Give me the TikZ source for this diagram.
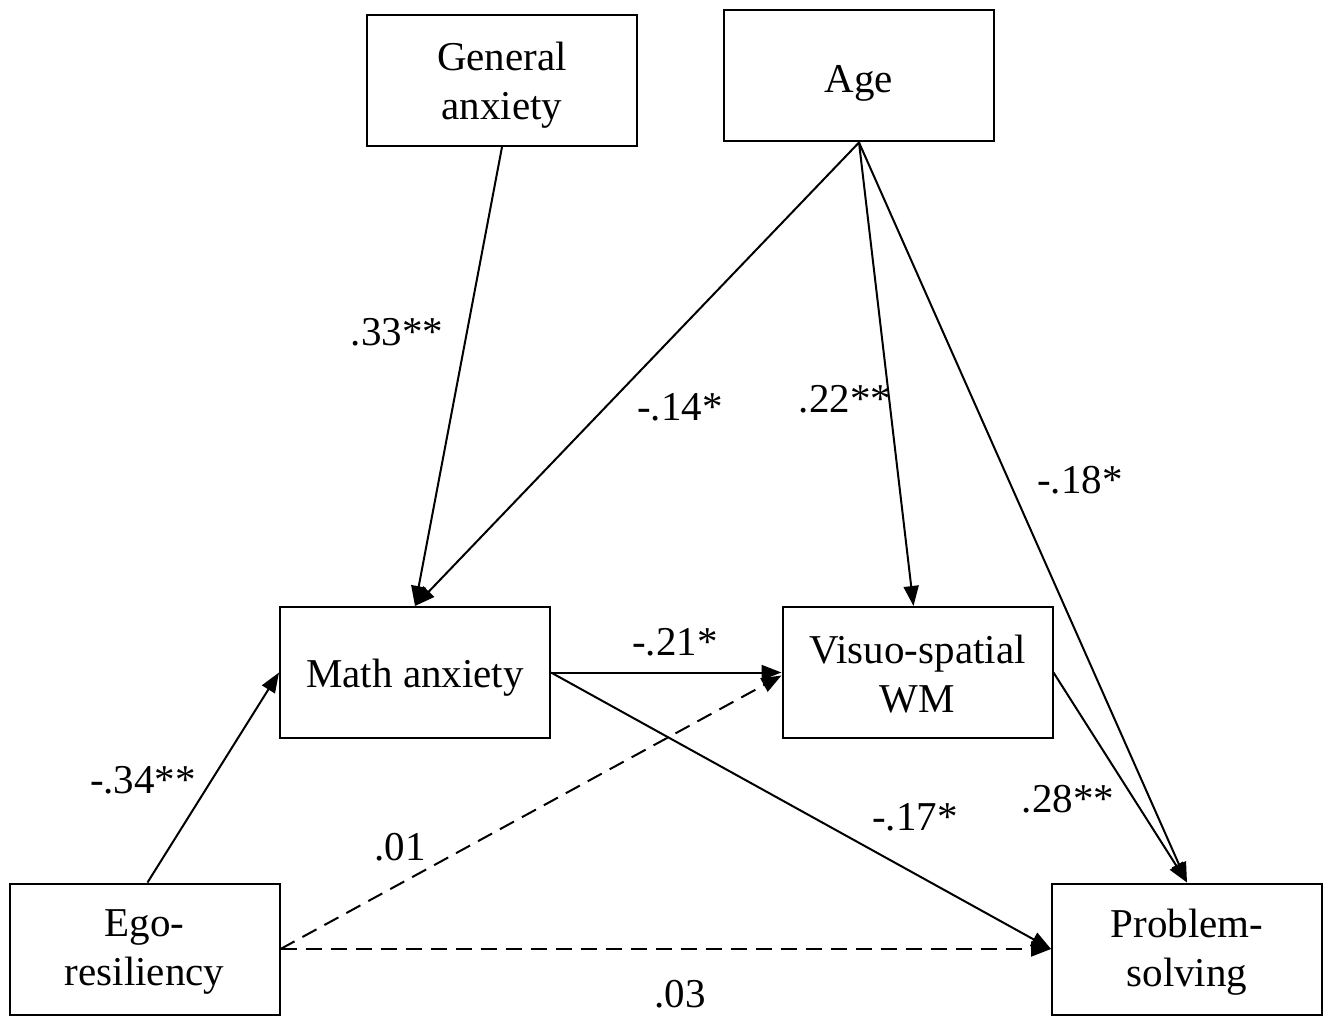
\documentclass[tikz,border=0pt]{standalone}
\usepackage{fontspec}
\setmainfont{Liberation Serif}
\usetikzlibrary{arrows.meta}
\begin{document}
\begin{tikzpicture}[x=1pt,y=-1pt,
  box/.style={draw,line width=2pt,minimum width=270pt,minimum height=131pt,inner sep=0pt},
  boxtext/.style={align=center,inner sep=0pt,font=\fontsize{41}{49}\selectfont},
  lbl/.style={font=\fontsize{41}{49}\selectfont,inner sep=0pt},
  conn/.style={line width=2pt,-{Triangle[length=20pt,width=15pt]}},
  dashconn/.style={conn,dash pattern=on 16pt off 9pt}]
\useasboundingbox (0,0) rectangle (1323,1016);
\node[box] (ga) at (502,80.5) {};
\node[box] (age) at (859,76) {};
\node[box] (ma) at (415,672.5) {};
\node[box] (vs) at (917.5,672.5) {};
\node[box] (ego) at (144.5,949) {};
\node[box] (ps) at (1187,949) {};
\node[boxtext] (gat) at ([yshift=-5pt]ga.center) {General\\anxiety};
\node[boxtext] (aget) at ([yshift=-7pt]age.center) {Age};
\node[boxtext] (mat) at ([yshift=-5pt]ma.center) {Math anxiety};
\node[boxtext] (vst) at ([yshift=-2pt]vs.center) {Visuo-spatial\\WM};
\node[boxtext] (egot) at ([yshift=-3pt]ego.center) {Ego-\\resiliency};
\node[boxtext] (pst) at ([yshift=-3pt]ps.center) {Problem-\\solving};
\draw[conn] (ga.south) -- (ma.north);
\draw[conn] (age.south) -- (ma.north);
\draw[conn] (age.south) -- ([xshift=-4pt]vs.north);
\draw[conn] (age.south) -- (ps.north);
\draw[conn] (ma.east) -- (vs.west);
\draw[conn] (ma.east) -- (ps.west);
\draw[conn] (vs.east) -- (ps.north);
\draw[conn] ([xshift=3pt]ego.north) -- (ma.west);
\draw[dashconn] (ego.east) -- ([yshift=-3pt]vs.west);
\draw[dashconn] (ego.east) -- (ps.west);
\node[lbl] (l1) at (397,332) {.33**};
\node[lbl] (l2) at (680,407) {-.14*};
\node[lbl] (l3) at (845,399) {.22**};
\node[lbl] (l4) at (1080,480) {-.18*};
\node[lbl] (l5) at (675,642) {-.21*};
\node[lbl] (l6) at (915,817) {-.17*};
\node[lbl] (l7) at (1068,799) {.28**};
\node[lbl] (l8) at (143,780) {-.34**};
\node[lbl] (l9) at (400,847) {.01};
\node[lbl] (l10) at (680,994) {.03};
\end{tikzpicture}
\end{document}
